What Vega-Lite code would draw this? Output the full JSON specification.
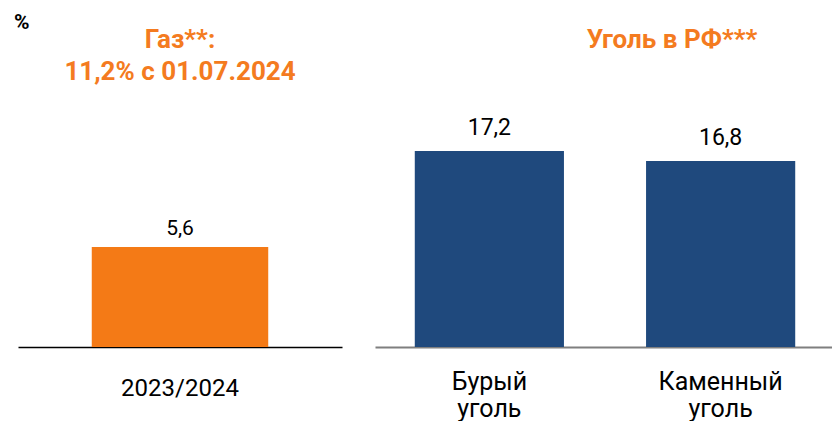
{
  "$schema": "https://vega.github.io/schema/vega-lite/v6.json",
  "padding": {"left": 14, "top": 12, "right": 0, "bottom": 0},
  "title": {"text": "%", "anchor": "start", "fontSize": 21, "fontWeight": "bold", "color": "#000000", "font": "Roboto", "offset": -6, "dx": -4},
  "config": {
    "view": {"stroke": null},
    "font": "Roboto",
    "locale": {"number": {"decimal": ",", "thousands": " ", "grouping": [3], "currency": ["", ""]}}
  },
  "datasets": {
    "gas": [{"period": "2023/2024", "value": 5.6}],
    "coal": [{"type": "Бурый уголь", "value": 17.2}, {"type": "Каменный уголь", "value": 16.8}]
  },
  "spacing": 33,
  "hconcat": [
    {
      "width": 324,
      "height": 249,
      "data": {"name": "gas"},
      "title": {"text": ["Газ**:", "11,2% с 01.07.2024"], "font": "Roboto", "fontSize": 26, "lineHeight": 32, "color": "#F47B20", "fontWeight": "bold", "offset": 13},
      "encoding": {
        "x": {"field": "period", "type": "nominal", "sort": null,
          "scale": {"paddingInner": 0, "paddingOuter": 0.418},
          "axis": {"title": null, "labelAngle": 0, "ticks": false, "domainColor": "#000000", "domainWidth": 1.5, "labelFontSize": 24, "labelPadding": 29, "labelColor": "#000000", "labelFont": "Roboto"}},
        "y": {"field": "value", "type": "quantitative", "scale": {"domain": [0, 13.94]}, "axis": null}
      },
      "layer": [
        {"mark": {"type": "bar", "color": "#F47A16"}},
        {"mark": {"type": "text", "baseline": "alphabetic", "dy": -12, "fontSize": 21, "color": "#000000", "font": "Roboto"},
         "encoding": {"text": {"field": "value", "type": "quantitative", "format": ".1f"}}}
      ]
    },
    {
      "width": 460,
      "height": 249,
      "data": {"name": "coal"},
      "title": {"text": ["Уголь в РФ***", " "], "font": "Roboto", "fontSize": 26, "lineHeight": 32, "color": "#F47B20", "fontWeight": "bold", "offset": 13, "dx": 67},
      "encoding": {
        "x": {"field": "type", "type": "nominal", "sort": null,
          "scale": {"paddingInner": 0.355, "paddingOuter": 0.172},
          "axis": {"title": null, "labelAngle": 0, "ticks": false, "domainColor": "#7F7F7F", "domainWidth": 2, "labelFontSize": 25, "labelLineHeight": 27, "labelPadding": 22, "labelColor": "#000000", "labelFont": "Roboto", "labelExpr": "split(datum.label, ' ')"}},
        "y": {"field": "value", "type": "quantitative", "scale": {"domain": [9.36, 19.32], "zero": false}, "axis": null}
      },
      "layer": [
        {"mark": {"type": "bar", "color": "#1F497D", "clip": true}},
        {"mark": {"type": "text", "baseline": "alphabetic", "dy": -16, "fontSize": 23, "color": "#000000", "font": "Roboto"},
         "encoding": {"text": {"field": "value", "type": "quantitative", "format": ".1f"}}}
      ]
    }
  ]
}
